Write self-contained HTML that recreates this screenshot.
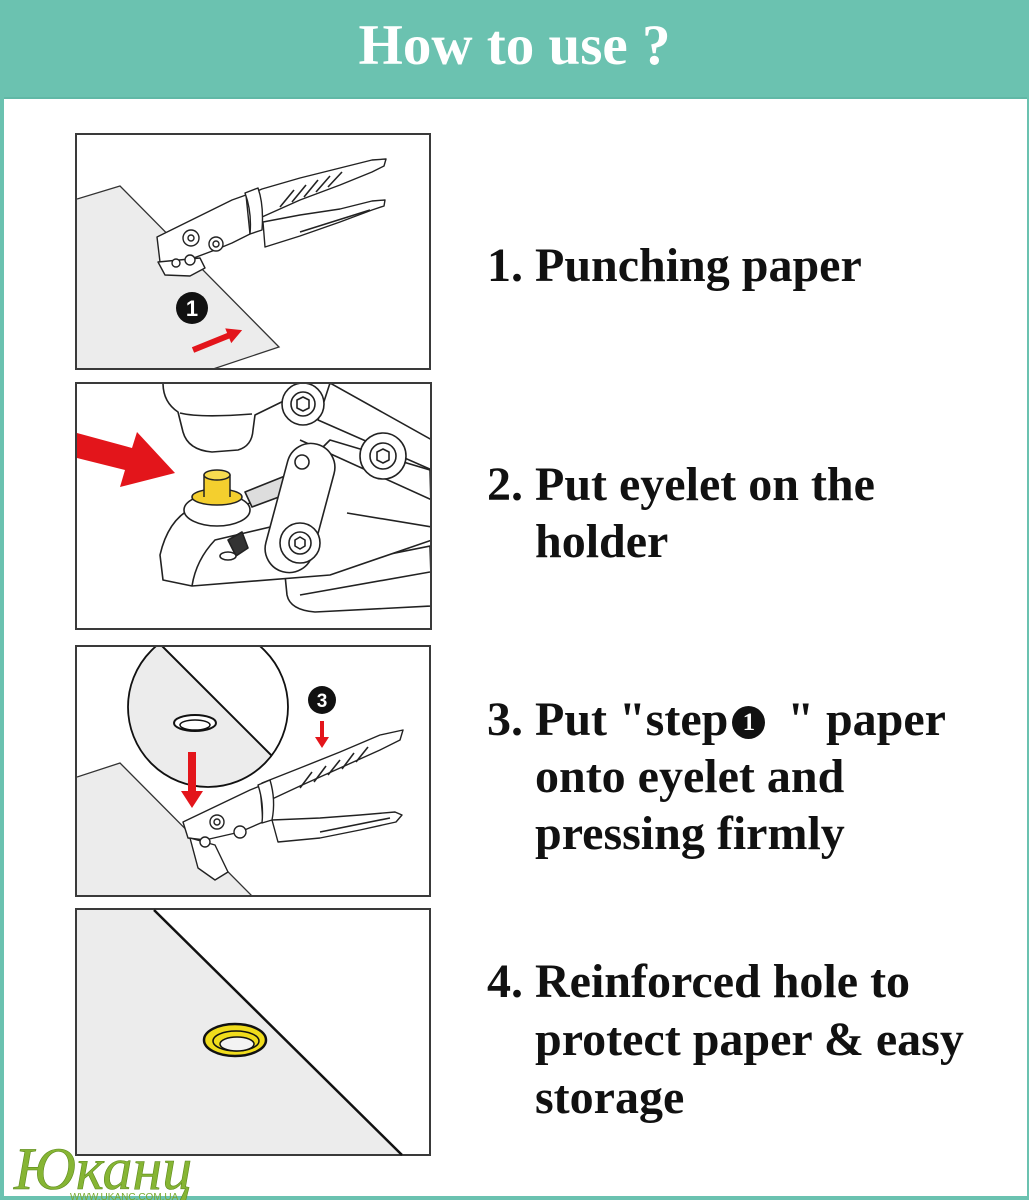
<!DOCTYPE html>
<html>
<head>
<meta charset="utf-8">
<style>
html,body{margin:0;padding:0;}
body{width:1029px;height:1200px;position:relative;overflow:hidden;background:#fff;}
.hdr{position:absolute;left:0;top:0;width:1029px;height:97px;background:#6bc2b0;border-bottom:2px solid #61b8a6;}
.title{position:absolute;left:0;top:17px;width:1029px;text-align:center;font-family:"Liberation Serif",serif;font-weight:bold;font-size:57px;line-height:57px;color:#fff;white-space:nowrap;}
.step{position:absolute;left:487px;font-family:"Liberation Serif",serif;font-weight:bold;font-size:48px;line-height:57px;color:#111;white-space:nowrap;padding-left:48px;text-indent:-48px;}
.n1{display:inline-block;position:relative;width:33px;height:33px;border-radius:50%;background:#111;vertical-align:-4px;margin:0 10px 0 4px;text-indent:0;}
.n1 i{position:absolute;left:0;top:0;width:33px;height:33px;line-height:33px;text-align:center;font-style:normal;font-size:25px;color:#fff;font-family:"Liberation Serif",serif;font-weight:bold;}
svg{position:absolute;left:0;top:0;}
</style>
</head>
<body>
<div class="hdr"></div>
<div class="title">How to use ?</div>

<svg width="1029" height="1200" viewBox="0 0 1029 1200">
<defs>
<clipPath id="p1"><rect x="77" y="135" width="352" height="233"/></clipPath>
<clipPath id="p2"><rect x="77" y="384" width="353" height="244"/></clipPath>
<clipPath id="p3"><rect x="77" y="647" width="352" height="248"/></clipPath>
<clipPath id="circ"><circle cx="208" cy="707" r="80"/></clipPath>
</defs>

<!-- page borders -->
<rect x="0" y="0" width="4" height="1200" fill="#6bc2b0"/>
<rect x="1027" y="0" width="2" height="1200" fill="#6bc2b0"/>
<rect x="0" y="1196" width="1029" height="4" fill="#6bc2b0"/>

<!-- PANEL 1 -->
<rect x="76" y="134" width="354" height="235" fill="#fff" stroke="#3a3a3a" stroke-width="2"/>
<g clip-path="url(#p1)">
<polygon points="77,199 120,186 279,347 213,368 77,368" fill="#ececec"/>
<polyline points="77,199 120,186 279,347 213,369" fill="none" stroke="#333" stroke-width="1.3"/>
<g fill="#fff" stroke="#222" stroke-width="1.4" stroke-linejoin="round">
<path d="M248,195 L262,189 L300,178 L340,168 L372,160 L386,159 L384,166 L372,172 L340,185 L300,200 L262,217 Z"/>
<path d="M263,222 L300,215 L340,209 L372,201 L385,200 L384,206 L372,210 L340,222 L300,236 L265,247 Z"/>
<path d="M157,237 L232,200 L246,195 L250,234 L232,243 L215,250 L175,265 L160,262 Z"/>
<path d="M245,193 L258,188 Q264,205 262,230 L250,234 Q252,212 245,193 Z"/>
<path d="M158,262 L165,275 L190,276 L205,268 L200,258 Z"/>
<circle cx="191" cy="238" r="8"/><circle cx="191" cy="238" r="3"/>
<circle cx="216" cy="244" r="7"/><circle cx="216" cy="244" r="3"/>
<circle cx="190" cy="260" r="5"/><circle cx="176" cy="263" r="4"/>
</g>
<g stroke="#222" stroke-width="1.6">
<line x1="280" y1="207" x2="294" y2="190"/><line x1="292" y1="202" x2="306" y2="185"/>
<line x1="304" y1="197" x2="318" y2="180"/><line x1="316" y1="192" x2="330" y2="176"/>
<line x1="328" y1="187" x2="342" y2="172"/><line x1="300" y1="232" x2="370" y2="210"/>
</g>
<circle cx="192" cy="308" r="16" fill="#111"/>
<text x="192" y="316" text-anchor="middle" font-family="Liberation Sans,sans-serif" font-weight="bold" font-size="22" fill="#fff">1</text>
<g transform="translate(193,350) rotate(-22)"><polygon points="0,-3 38,-3 38,-8 53,0 38,8 38,3 0,3" fill="#e3151b"/></g>
</g>

<!-- PANEL 2 -->
<rect x="76" y="383" width="355" height="246" fill="#fff" stroke="#3a3a3a" stroke-width="2"/>
<g clip-path="url(#p2)">
<g fill="#fff" stroke="#222" stroke-width="1.6" stroke-linejoin="round">
<path d="M285,575 L430,546 L432,606 L315,612 Q290,610 287,595 Z"/>
<path d="M300,595 L430,572" fill="none"/>
<path d="M160,555 Q168,520 192,508 L245,506 L300,470 L330,440 L430,470 L432,540 L330,575 L192,586 L163,580 Z"/>
<path d="M192,586 Q196,560 215,540 L300,520" fill="none"/>
<path d="M330,383 L432,440 L432,470 L318,420 Z"/>
<path d="M300,440 L432,500" fill="none"/>
<path d="M347,513 L432,527" fill="none"/>
<path d="M163,383 Q163,402 178,412 L183,432 Q188,450 212,452 L238,450 Q252,446 253,430 L255,415 L300,393 L308,383 Z"/>
<path d="M180,413 Q200,418 252,414" fill="none"/>
<path d="M245,492 L300,470 L306,487 L252,507 Z" fill="#ddd"/>
<ellipse cx="217" cy="510" rx="33" ry="16"/>
<circle cx="303" cy="404" r="21"/><circle cx="303" cy="404" r="12"/>
<polygon points="303,397 309,400 309,408 303,411 297,408 297,400"/>
<circle cx="383" cy="456" r="23"/><circle cx="383" cy="456" r="13"/>
<polygon points="383,449 389,452 389,460 383,463 377,460 377,452"/>
<rect x="-24" y="-66" width="48" height="132" rx="24" transform="translate(300,508) rotate(15)"/>
<circle cx="302" cy="462" r="7"/>
<circle cx="300" cy="543" r="20"/><circle cx="300" cy="543" r="11"/>
<polygon points="300,537 305,540 305,546 300,549 295,546 295,540"/>
<path d="M228,540 L242,532 L248,548 L236,556 Z" fill="#333"/>
<ellipse cx="228" cy="556" rx="8" ry="4"/>
</g>
<ellipse cx="217" cy="497" rx="25" ry="8" fill="#f4cf2e" stroke="#222" stroke-width="1.5"/>
<rect x="204" y="475" width="26" height="22" fill="#f4cf2e"/>
<line x1="204" y1="475" x2="204" y2="497" stroke="#222" stroke-width="1.5"/>
<line x1="230" y1="475" x2="230" y2="497" stroke="#222" stroke-width="1.5"/>
<ellipse cx="217" cy="475" rx="13" ry="5" fill="#f8dc50" stroke="#222" stroke-width="1.5"/>
<polygon points="77,433 132,448 137,432 175,473 120,487 125,470 77,458" fill="#e3151b"/>
</g>

<!-- PANEL 3 -->
<rect x="76" y="646" width="354" height="250" fill="#fff" stroke="#3a3a3a" stroke-width="2"/>
<g clip-path="url(#p3)">
<polygon points="77,777 120,763 252,896 77,896" fill="#ececec"/>
<polyline points="77,777 120,763 252,896" fill="none" stroke="#333" stroke-width="1.3"/>
<circle cx="208" cy="707" r="80" fill="#fff"/>
<g clip-path="url(#circ)">
<polygon points="100,584 320,804 100,804" fill="#ececec"/>
<line x1="100" y1="584" x2="320" y2="804" stroke="#111" stroke-width="2"/>
</g>
<circle cx="208" cy="707" r="80" fill="none" stroke="#111" stroke-width="1.8"/>
<ellipse cx="195" cy="723" rx="21" ry="8" fill="#fff" stroke="#111" stroke-width="2"/>
<ellipse cx="195" cy="725" rx="15" ry="5" fill="#fff" stroke="#111" stroke-width="1.5"/>
<g fill="#fff" stroke="#222" stroke-width="1.4" stroke-linejoin="round">
<path d="M262,783 L300,768 L340,752 L380,735 L403,730 L400,740 L380,750 L340,768 L300,786 L270,800 Z"/>
<path d="M272,820 L320,818 L360,815 L395,812 L402,815 L396,822 L360,830 L320,838 L278,842 Z"/>
<path d="M183,822 L250,790 L260,786 L263,822 L240,832 L205,840 L188,838 Z"/>
<path d="M258,785 L270,780 Q276,800 272,820 L262,823 Q264,803 258,785 Z"/>
<path d="M190,838 L198,868 L215,880 L228,872 L215,845 Z"/>
<circle cx="217" cy="822" r="7"/><circle cx="217" cy="822" r="3"/>
<circle cx="240" cy="832" r="6"/><circle cx="205" cy="842" r="5"/>
</g>
<g stroke="#222" stroke-width="1.6">
<line x1="300" y1="788" x2="312" y2="772"/><line x1="314" y1="782" x2="326" y2="766"/>
<line x1="328" y1="775" x2="340" y2="760"/><line x1="342" y1="769" x2="354" y2="753"/>
<line x1="356" y1="762" x2="368" y2="747"/><line x1="320" y1="832" x2="390" y2="818"/>
</g>
<rect x="188" y="752" width="8" height="41" fill="#e3151b"/>
<polygon points="181,791 203,791 192,808" fill="#e3151b"/>
<circle cx="322" cy="700" r="14" fill="#111"/>
<text x="322" y="707" text-anchor="middle" font-family="Liberation Sans,sans-serif" font-weight="bold" font-size="19" fill="#fff">3</text>
<rect x="320" y="721" width="4" height="17" fill="#e3151b"/>
<polygon points="315,737 329,737 322,748" fill="#e3151b"/>
</g>

<!-- PANEL 4 -->
<rect x="76" y="909" width="354" height="246" fill="#fff" stroke="#3a3a3a" stroke-width="2"/>
<polygon points="77,910 154,910 402,1154 77,1154" fill="#ececec"/>
<line x1="154" y1="910" x2="402" y2="1155" stroke="#111" stroke-width="2.5"/>
<ellipse cx="235" cy="1040" rx="31" ry="16" fill="#f0dc1c" stroke="#111" stroke-width="2.5"/>
<ellipse cx="236" cy="1041" rx="23" ry="10" fill="#f0dc1c" stroke="#111" stroke-width="1.5"/>
<ellipse cx="237" cy="1044" rx="17" ry="7" fill="#f3f3f3" stroke="#111" stroke-width="1.5"/>

<!-- logo -->
<text x="14" y="1189" font-family="Liberation Serif,serif" font-style="italic" font-size="60" fill="#86b534" stroke="#5d8a1c" stroke-width="0.6">Юканц</text>
<text x="70" y="1200" font-family="Liberation Sans,sans-serif" font-size="10" fill="#7aa92c">WWW.UKANC.COM.UA</text>
</svg>

<div class="step" style="top:237px;">1. Punching paper</div>
<div class="step" style="top:456px;">2. Put eyelet on the<br>holder</div>
<div class="step" style="top:691px;">3. Put "step<span class="n1"><i>1</i></span> " paper<br>onto eyelet and<br>pressing firmly</div>
<div class="step" style="top:953px;line-height:58px;">4. Reinforced hole to<br>protect paper &amp; easy<br>storage</div>
</body>
</html>
